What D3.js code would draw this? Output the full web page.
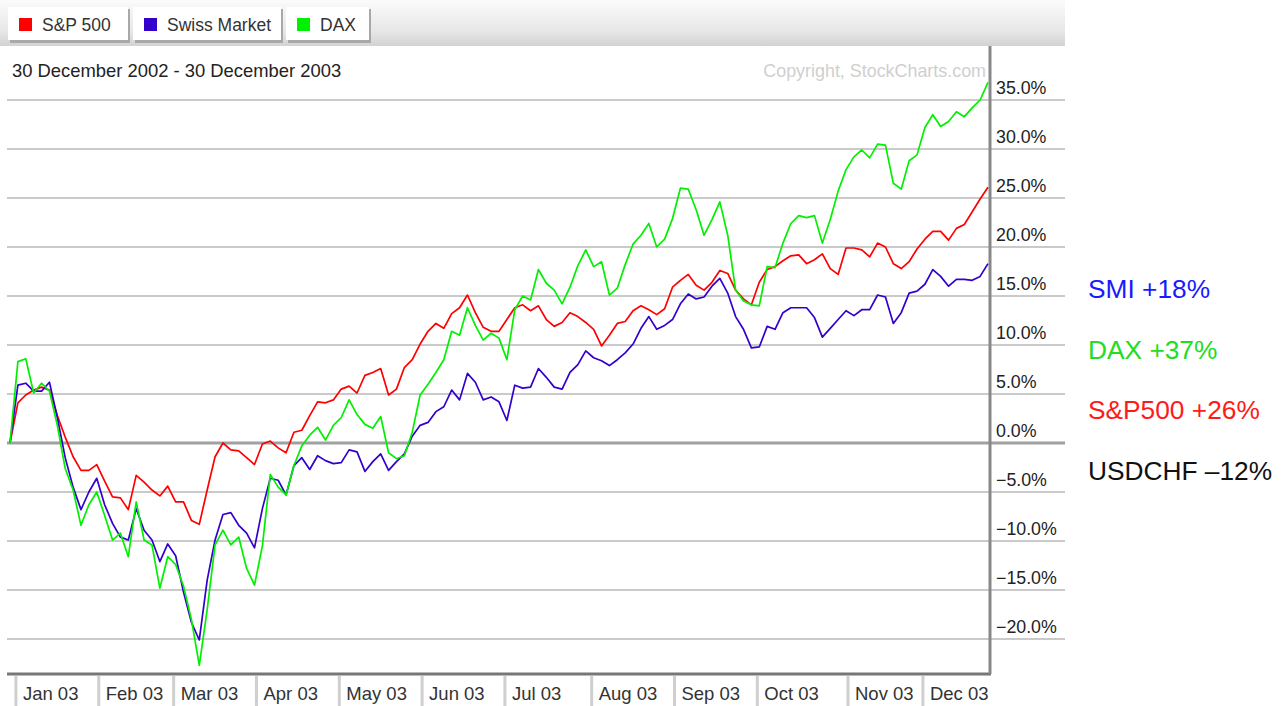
<!DOCTYPE html>
<html><head><meta charset="utf-8">
<script src="https://cdn.jsdelivr.net/npm/d3@7"></script>
<style>
html,body{margin:0;padding:0;background:#fff;}
svg{display:block;font-family:"Liberation Sans",Arial,sans-serif;}
</style></head>
<body>
<svg id="chart" width="1284" height="706"></svg>
<script>
// ---------- data ----------
const seriesNames = ["S&P 500", "Swiss Market", "DAX"];
const seriesColors = ["#ff0000", "#3300cc", "#00f000"];
// trading-day counts per month segment (Dec 02 tail, Jan..Dec 03)
const monthDays = [2,21,19,21,21,21,21,22,21,21,23,19,17];
const monthLabels = ["Jan 03","Feb 03","Mar 03","Apr 03","May 03","Jun 03","Jul 03","Aug 03","Sep 03","Oct 03","Nov 03","Dec 03"];
const yTicks = [-20,-15,-10,-5,0,5,10,15,20,25,30,35];
const dayStep = 2; // one value every 2 trading days

const spx = [0,4.1,4.9,5.4,5.7,5.4,2.8,0.6,-1.4,-2.8,-2.8,-2.2,-3.9,-5.5,-5.6,-6.8,-3.3,-4.0,-4.8,-5.4,
-4.4,-6.0,-6.0,-7.9,-8.3,-4.8,-1.4,0.0,-0.7,-0.8,-1.5,-2.2,-0.1,0.2,-0.5,-1.0,1.1,1.3,2.8,4.2,
4.1,4.4,5.5,5.8,5.1,6.9,7.2,7.6,4.9,5.5,7.7,8.5,10.1,11.4,12.2,11.7,13.2,13.8,15.1,13.3,
11.8,11.4,11.4,12.6,13.8,14.1,13.5,14.0,12.6,11.9,12.3,13.3,12.9,12.3,11.6,9.9,11.0,12.2,12.4,13.5,
14.0,13.6,13.1,13.7,15.9,16.6,17.2,16.1,15.6,16.4,17.6,17.3,15.6,14.7,14.1,16.4,17.7,18.0,18.6,19.1,
19.2,18.3,18.7,19.3,17.8,17.2,19.9,19.9,19.7,19.0,20.4,20.0,18.3,17.8,18.5,19.8,20.8,21.6,21.6,20.7,
21.9,22.3,23.6,24.9,26.1];

const smi = [0,5.9,6.1,5.3,5.3,6.2,2.6,-1.5,-4.5,-6.8,-5.0,-3.6,-6.3,-8.2,-9.6,-9.9,-6.7,-8.9,-9.9,-12.1,
-10.3,-11.5,-15.2,-18.3,-20.1,-14.0,-9.9,-7.3,-7.1,-8.4,-9.2,-10.7,-6.7,-3.6,-3.8,-5.3,-2.3,-1.5,-2.7,-1.3,
-1.8,-2.1,-2.0,-0.7,-0.9,-2.9,-1.9,-1.1,-2.8,-1.9,-1.1,0.7,1.8,2.1,3.2,3.7,5.4,4.4,7.1,6.2,
4.4,4.7,4.2,2.3,5.9,5.6,5.7,7.6,6.7,5.7,5.5,7.2,8.0,9.4,8.7,8.4,7.9,8.5,9.2,10.1,
11.7,12.9,11.6,12.0,12.6,14.2,15.2,14.7,14.9,16.0,16.8,15.3,12.9,11.6,9.7,9.8,11.9,11.6,13.3,13.8,
13.8,13.8,12.8,10.8,11.7,12.6,13.5,13.0,13.6,13.6,15.1,14.9,12.2,13.3,15.3,15.5,16.2,17.7,17.0,16.0,
16.7,16.7,16.6,17.0,18.3];

const dax = [0,8.3,8.6,5.1,6.1,5.3,1.8,-2.6,-4.8,-8.4,-6.3,-5.0,-7.4,-9.9,-9.2,-11.6,-6.0,-9.9,-10.4,-14.8,
-11.6,-12.4,-14.6,-18.0,-22.7,-17.0,-10.4,-8.9,-10.4,-9.6,-12.8,-14.5,-10.5,-3.2,-4.5,-5.3,-2.3,-0.3,0.8,1.6,
0.3,1.8,2.6,4.4,2.9,1.9,1.5,2.7,-1.0,-1.6,-1.3,1.1,4.9,6.0,7.2,8.5,11.4,11.0,13.8,12.0,
10.5,11.2,10.7,8.5,13.6,15.0,14.6,17.7,16.3,15.6,14.2,15.9,18.1,19.7,18.0,18.5,15.1,15.8,18.2,20.3,
21.2,22.4,20.0,20.8,22.9,26.0,25.9,23.8,21.2,22.8,24.6,21.2,15.6,14.5,14.1,14.0,18.0,17.9,20.4,22.4,
23.2,23.0,23.2,20.4,22.8,25.7,27.9,29.2,29.9,29.1,30.5,30.4,26.5,25.9,28.8,29.4,32.2,33.5,32.3,32.8,
33.8,33.3,34.2,35.0,36.8];

const notes = [
  {text:"SMI +18%", color:"#1a1aff"},
  {text:"DAX +37%", color:"#22dd22"},
  {text:"S&P500 +26%", color:"#ff1a1a"},
  {text:"USDCHF \u201312%", color:"#111111"}
];

// ---------- layout ----------
const W = 1284, H = 706;
const plotLeft = 7, plotRight = 990, plotBottom = 674, bandRight = 1065;
const totalDays = d3.sum(monthDays) - 1;

const svg = d3.select("#chart");
const x = d3.scaleLinear().domain([0, totalDays]).range([10, 988]);
const y = d3.scaleLinear().domain([0, 35]).range([443, 100]);

// top band gradient
const defs = svg.append("defs");
const g1 = defs.append("linearGradient").attr("id","band").attr("x1",0).attr("y1",0).attr("x2",0).attr("y2",1);
g1.append("stop").attr("offset","0%").attr("stop-color","#fbfbfb");
g1.append("stop").attr("offset","70%").attr("stop-color","#e6e6e6");
g1.append("stop").attr("offset","100%").attr("stop-color","#d2d2d2");
svg.append("rect").attr("x",0).attr("y",0).attr("width",bandRight).attr("height",46).attr("fill","url(#band)");

// legend tabs
const tabs = [{x:8,w:120},{x:133,w:148},{x:286,w:83}];
const lg = svg.append("g");
seriesNames.forEach((n,i)=>{
  const t = tabs[i];
  lg.append("rect").attr("x",t.x+2).attr("y",9).attr("width",t.w).attr("height",34).attr("fill","#a8a8a8");
  lg.append("rect").attr("x",t.x).attr("y",7).attr("width",t.w).attr("height",33).attr("fill","#ffffff");
  lg.append("rect").attr("x",t.x+11).attr("y",18).attr("width",13).attr("height",13).attr("fill",seriesColors[i]);
  lg.append("text").attr("x",t.x+34).attr("y",31).attr("font-size",17.5).attr("fill","#333").text(n);
});

// gridlines (extend through label area)
svg.append("g").selectAll("line").data(yTicks).join("line")
  .attr("x1",plotLeft).attr("x2",bandRight)
  .attr("y1",d=>y(d)).attr("y2",d=>y(d))
  .attr("stroke",d=>d===0?"#a0a0a0":"#cacaca")
  .attr("stroke-width",d=>d===0?3:2);

// y labels
svg.append("g").selectAll("text").data(yTicks).join("text")
  .attr("x",996).attr("y",d=>y(d)-6)
  .attr("font-size",17.8).attr("fill","#222")
  .text(d=>d3.format(".1f")(d)+"%");

// title & copyright
svg.append("text").attr("x",12).attr("y",77).attr("font-size",18.4).attr("fill","#222")
  .text("30 December 2002 - 30 December 2003");
svg.append("text").attr("x",986).attr("y",77).attr("text-anchor","end").attr("font-size",17.9).attr("fill","#cfcfcf")
  .text("Copyright, StockCharts.com");

// axes frame
svg.append("line").attr("x1",plotLeft).attr("x2",plotRight+1).attr("y1",plotBottom).attr("y2",plotBottom)
  .attr("stroke","#777").attr("stroke-width",3);
svg.append("line").attr("x1",plotRight).attr("x2",plotRight).attr("y1",46).attr("y2",plotBottom)
  .attr("stroke","#888").attr("stroke-width",3);

// month separators & labels
let cum = 0;
const bounds = monthDays.slice(0,-1).map(d=>{cum += d; return cum - 0.5;});
svg.append("g").selectAll("line").data(bounds).join("line")
  .attr("x1",d=>x(d)).attr("x2",d=>x(d)).attr("y1",plotBottom+2).attr("y2",H)
  .attr("stroke","#cfcfcf").attr("stroke-width",3);
svg.append("g").selectAll("text").data(bounds).join("text")
  .attr("x",d=>x(d)+7).attr("y",700).attr("font-size",18.5).attr("fill","#333")
  .text((d,i)=>monthLabels[i]);

// lines
const line = d3.line().x((d,i)=>x(i*dayStep)).y(d=>y(d));
const allSeries = [spx, smi, dax];
svg.append("g").selectAll("path").data(allSeries).join("path")
  .attr("d",line).attr("fill","none")
  .attr("stroke",(d,i)=>seriesColors[i]).attr("stroke-width",1.7).attr("stroke-linejoin","round");

// annotations
svg.append("g").selectAll("text").data(notes).join("text")
  .attr("x",1088).attr("y",(d,i)=>298+i*60.5)
  .attr("font-size",26.3).attr("fill",d=>d.color).text(d=>d.text);
</script>
</body></html>
